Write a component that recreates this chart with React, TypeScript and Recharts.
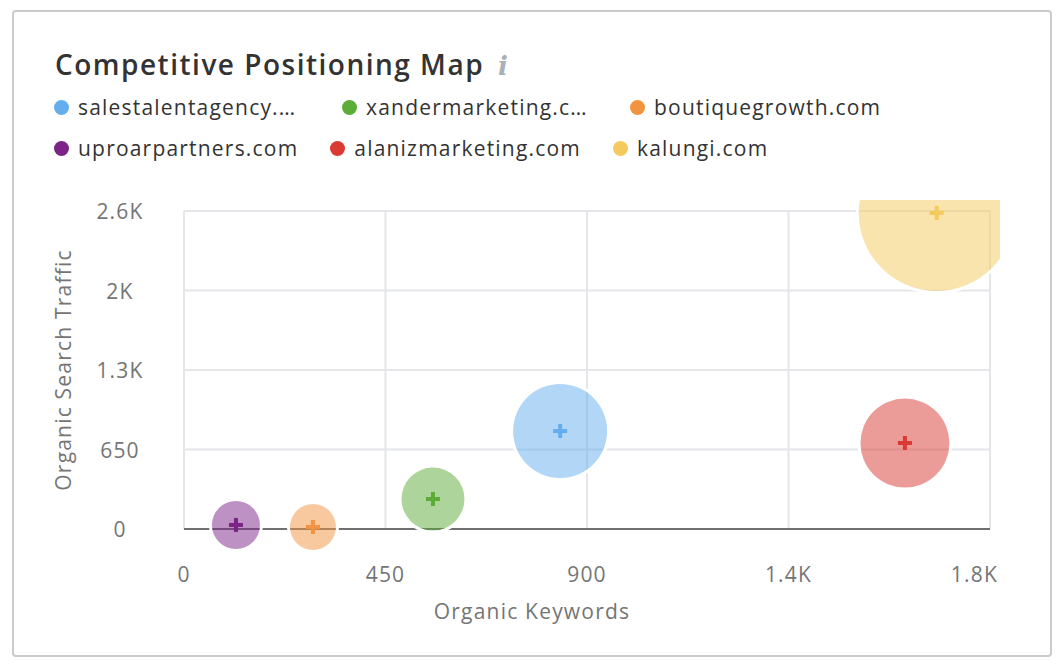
import * as R from 'recharts'
import { ScatterChart, Scatter, XAxis, YAxis, ZAxis, CartesianGrid } from 'recharts'

// domains as shown in the legend (truncated like the original)
const domains = ['salestalentagency.…', 'xandermarketing.c…', 'boutiquegrowth.com', 'uproarpartners.com', 'alanizmarketing.com', 'kalungi.com']
const colors = ['#64aeee', '#5cac38', '#f29340', '#7c2387', '#da3a31', '#f6c95c']
const keywords = [840, 556, 288, 116, 1610, 1681]
const traffic = [801, 245, 16, 33, 703, 2584]
const bubble = [2209, 992, 529, 576, 1980, 6084]

const xTicks = [0, 450, 900, 1350, 1800]
const xTickLabels = ['0', '450', '900', '1.4K', '1.8K']
const yTicks = [0, 650, 1300, 1950, 2600]
const yTickLabels = ['0', '650', '1.3K', '2K', '2.6K']

const FONT = '"Open Sans", "Noto Sans", sans-serif'
const AXIS_TEXT = '#757575'
const maxBubble = Math.max(...bubble)

const series = domains.map((name, i) => ({
  name,
  color: colors[i],
  data: [{ x: keywords[i], y: traffic[i], z: bubble[i] }],
}))

const legendRows = [series.slice(0, 3), series.slice(3, 6)]

// bubbles spill ~10px past the top/right of the plot, then get cut
function BubbleClip() {
  const usePlotArea = (R as any).usePlotArea
  const area = usePlotArea ? usePlotArea() : null
  const a = area ?? { x: 170, y: 23, width: 806, height: 318 }
  return (
    <defs>
      <clipPath id="bubble-clip">
        <rect x={a.x - 60} y={a.y - 11} width={a.width + 70} height={a.height + 71} />
      </clipPath>
    </defs>
  )
}

function XTick(props: any) {
  const { x, y, payload } = props
  const i = xTicks.indexOf(payload.value)
  const last = i === xTicks.length - 1
  return (
    <text x={last ? x + 8 : x} y={y + 45} textAnchor={last ? 'end' : 'middle'} dominantBaseline="central"
      fill={AXIS_TEXT} fontSize={21} fontFamily={FONT} letterSpacing={1.2}>
      {xTickLabels[i]}
    </text>
  )
}

function YTick(props: any) {
  const { x, y, payload } = props
  const i = yTicks.indexOf(payload.value)
  return (
    <text x={x - 64} y={y} textAnchor="middle" dominantBaseline="central"
      fill={AXIS_TEXT} fontSize={21} fontFamily={FONT} letterSpacing={1.2}>
      {yTickLabels[i]}
    </text>
  )
}

function Bubble(props: any) {
  const { cx, cy, width, fill } = props
  const r = width / 2
  return (
    <g clipPath="url(#bubble-clip)">
      <circle cx={cx} cy={cy} r={r + 1.5} fill="none" stroke="#ffffff" strokeWidth={3} />
      <circle cx={cx} cy={cy} r={r} fill={fill} fillOpacity={0.5} />
      <line x1={cx - 7} x2={cx + 7} y1={cy} y2={cy} stroke={fill} strokeWidth={4} />
      <line x1={cx} x2={cx} y1={cy - 7} y2={cy + 7} stroke={fill} strokeWidth={4} />
    </g>
  )
}

export default function App() {
  return (
    <div style={{
      position: 'relative', marginLeft: 4, marginTop: 2, width: 1040, height: 647,
      boxSizing: 'border-box', border: '2px solid #cbcbcb', borderRadius: 4,
      fontFamily: FONT, background: '#fff',
    }}>
      {/* title */}
      <div style={{ position: 'absolute', left: 41, top: 33, lineHeight: '38px', fontSize: 28, fontWeight: 600, color: '#333', whiteSpace: 'nowrap', letterSpacing: 1.5 }}>
        Competitive Positioning Map
        <span style={{ marginLeft: 14, color: '#a9b0b7', fontStyle: 'italic', fontWeight: 700, fontFamily: '"DejaVu Serif", serif', fontSize: 26 }}>i</span>
      </div>

      {/* legend */}
      {legendRows.map((row, r) => (
        <div key={r} style={{ position: 'absolute', left: 40, top: 82 + r * 41, height: 26, display: 'flex', alignItems: 'center', gap: 32, whiteSpace: 'nowrap' }}>
          {row.map((s) => (
            <div key={s.name} style={{ display: 'flex', alignItems: 'center' }}>
              <span style={{ width: 15, height: 15, borderRadius: 8, background: s.color, marginRight: 9 }} />
              <span style={{ fontSize: 21, color: '#333', letterSpacing: 1.2, minWidth: s.name.endsWith('…') ? 232 : 0 }}>{s.name}</span>
            </div>
          ))}
        </div>
      ))}

      <div style={{ position: 'absolute', left: 0, top: 176 }}>
        <ScatterChart width={986} height={452} margin={{ top: 23, right: 10, bottom: 11, left: 0 }} style={{ overflow: 'visible' }}>
          <BubbleClip />
          <CartesianGrid stroke="#e4e6e9" strokeWidth={2} />
          <XAxis
            type="number" dataKey="x" domain={[0, 1800]} ticks={xTicks} interval={0}
            height={100} tickSize={0} tickMargin={0} tickLine={false}
            axisLine={{ stroke: '#707070', strokeWidth: 2 }} tick={<XTick />}
            label={({ viewBox }: any) => (
              <text x={viewBox.x + viewBox.width / 2 - 55} y={viewBox.y + 82} textAnchor="middle" dominantBaseline="central"
                fill={AXIS_TEXT} fontSize={21} fontFamily={FONT} letterSpacing={1.2}>Organic Keywords</text>
            )}
          />
          <YAxis
            type="number" dataKey="y" domain={[0, 2600]} ticks={yTicks} interval={0}
            width={170} tickSize={0} tickMargin={0} tickLine={false} axisLine={false} tick={<YTick />}
            label={({ viewBox }: any) => {
              const cx = 49
              const cy = viewBox.y + viewBox.height / 2
              return (
                <text x={cx} y={cy} transform={`rotate(-90 ${cx} ${cy})`} textAnchor="middle" dominantBaseline="central"
                  fill={AXIS_TEXT} fontSize={21} fontFamily={FONT} letterSpacing={1.2}>Organic Search Traffic</text>
              )
            }}
          />
          <ZAxis type="number" dataKey="z" domain={[0, maxBubble]} range={[0, Math.PI * maxBubble]} />
          {series.map((s) => (
            <Scatter key={s.name} name={s.name} data={s.data} fill={s.color} shape={<Bubble />} isAnimationActive={false} />
          ))}
        </ScatterChart>
      </div>
    </div>
  )
}
